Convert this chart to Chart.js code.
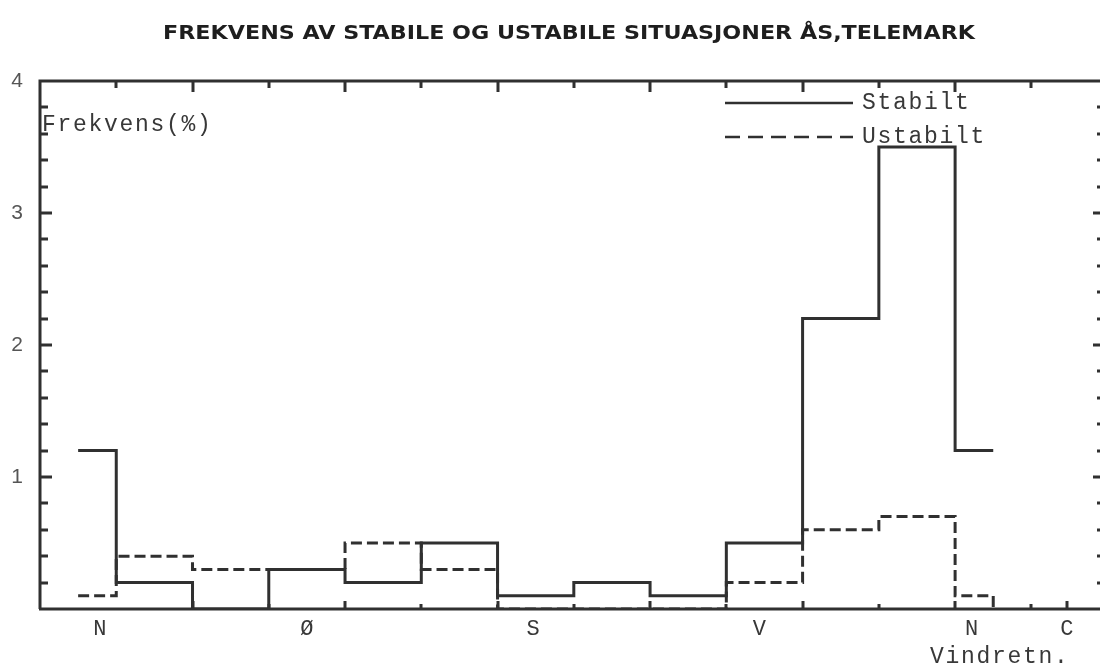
<!DOCTYPE html>
<html>
<head>
<meta charset="utf-8">
<title>Frekvens av stabile og ustabile situasjoner</title>
<script src="https://cdn.jsdelivr.net/npm/chart.js@4/dist/chart.umd.min.js"></script>
<style>
  html, body { margin: 0; padding: 0; background: #fff; }
  #wrap { width: 1100px; height: 667px; }
</style>
</head>
<body>
<div id="wrap"><canvas id="freq" width="1100" height="667"></canvas></div>
<script>

// Sector edges in degrees (30 deg sectors, N split at both ends)
const sectorEdges = [0, 15, 45, 75, 105, 135, 165, 195, 225, 255, 285, 315, 345, 360];

// Frequency (%) per sector
const stabilt  = [1.2, 0.2, 0.0, 0.3, 0.2, 0.5, 0.1, 0.2, 0.1, 0.5, 2.2, 3.5, 1.2];
const ustabilt = [0.1, 0.4, 0.3, 0.3, 0.5, 0.3, 0.0, 0.0, 0.0, 0.2, 0.6, 0.7, 0.1];

// Direction labels along the x axis
const dirLabels = ['N', 'Ø', 'S', 'V', 'N', 'C'];
const dirTicks  = [8.5, 90, 179, 268, 351.5, 389];

const yLabels = [1, 2, 3, 4];

const ink = '#303030';
const textInk = '#383838';
const typewriter = '"Liberation Mono", "DejaVu Sans Mono", monospace';

function stepPoints(edges, values, dropAtEnd) {
    let pts = [];
    values.forEach(function(v, i) {
        pts.push({ x: edges[i], y: v });
        pts.push({ x: edges[i + 1], y: v });
    });
    if (dropAtEnd) {
        pts.push({ x: edges[edges.length - 1], y: 0 });
    }
    return pts;
}

// frame, inward tick marks, title, legend and free text
const decorations = {
    id: 'decorations',
    beforeDatasetsDraw(chart) {
        const ctx = chart.ctx;
        const area = chart.chartArea;
        const xs = chart.scales.x;
        const ys = chart.scales.y;
        ctx.save();
        ctx.strokeStyle = ink;
        ctx.lineWidth = 3;
        ctx.lineCap = 'butt';

        // frame
        ctx.beginPath();
        ctx.moveTo(area.left, area.bottom);
        ctx.lineTo(area.left, area.top);
        ctx.lineTo(area.right + 2, area.top);
        ctx.moveTo(area.left - 1, area.bottom);
        ctx.lineTo(area.right + 2, area.bottom);
        ctx.stroke();

        // left / right ticks every 0.2
        for (let k = 1; k < 20; k++) {
            const v = k / 5;
            const y = Math.round(ys.getPixelForValue(v));
            const major = k % 5 === 0;
            ctx.beginPath();
            ctx.moveTo(area.left, y);
            ctx.lineTo(area.left + (major ? 12 : 8), y);
            ctx.moveTo(area.right, y);
            ctx.lineTo(area.right - (major ? 7 : 3), y);
            ctx.stroke();
        }

        // top and bottom ticks every 30 deg
        for (let d = 15; d <= 375; d += 30) {
            const x = Math.round(xs.getPixelForValue(d));
            const long = (d - 45) % 60 === 0;
            ctx.beginPath();
            ctx.moveTo(x, area.top);
            ctx.lineTo(x, area.top + (long ? 11 : 7));
            if (d > 15) {
                ctx.moveTo(x, area.bottom);
                ctx.lineTo(x, area.bottom - (long ? 8 : 5));
            }
            ctx.stroke();
        }
        const xc = Math.round(xs.getPixelForValue(dirTicks[dirTicks.length - 1]));
        ctx.beginPath();
        ctx.moveTo(xc, area.bottom);
        ctx.lineTo(xc, area.bottom - 8);
        ctx.stroke();
        ctx.restore();
    },
    afterDraw(chart) {
        const ctx = chart.ctx;
        const area = chart.chartArea;
        ctx.save();

        // title
        const title = 'FREKVENS AV STABILE OG USTABILE SITUASJONER ÅS,TELEMARK';
        ctx.font = 'bold 19px "DejaVu Sans", sans-serif';
        ctx.fillStyle = '#1e1e1e';
        ctx.textBaseline = 'middle';
        ctx.textAlign = 'left';
        const w = ctx.measureText(title).width;
        ctx.save();
        ctx.translate(163, 34);
        ctx.scale(812 / w, 1);
        ctx.fillText(title, 0, 0);
        ctx.restore();

        // typewriter text
        ctx.font = '23px ' + typewriter;
        ctx.letterSpacing = '1.7px';
        ctx.fillStyle = textInk;
        ctx.fillText('Frekvens(%)', area.left + 2, 125);
        ctx.fillText('Vindretn.', 930, 657);

        // legend
        const rows = [
            { ds: chart.data.datasets[0], y: 103, dash: [] },
            { ds: chart.data.datasets[1], y: 137, dash: [15, 8] }
        ];
        rows.forEach(function(row) {
            ctx.save();
            ctx.strokeStyle = row.ds.borderColor;
            ctx.lineWidth = 2.5;
            ctx.setLineDash(row.dash);
            ctx.beginPath();
            ctx.moveTo(725, row.y);
            ctx.lineTo(853, row.y);
            ctx.stroke();
            ctx.restore();
            ctx.fillText(row.ds.label, 862, row.y);
        });
        ctx.restore();
    }
};

const ctx = document.getElementById('freq').getContext('2d');
const chart = new Chart(ctx, {
    type: 'line',
    data: {
        datasets: [
            {
                label: 'Stabilt',
                data: stepPoints(sectorEdges, stabilt, false),
                borderColor: ink,
                borderWidth: 3,
                pointRadius: 0,
                fill: false,
                tension: 0
            },
            {
                label: 'Ustabilt',
                data: stepPoints(sectorEdges, ustabilt, true),
                borderColor: ink,
                borderWidth: 3,
                borderDash: [11, 5],
                pointRadius: 0,
                fill: false,
                tension: 0
            }
        ]
    },
    options: {
        responsive: false,
        animation: false,
        layout: { padding: { top: 81, right: 0, bottom: 0, left: 0 } },
        plugins: {
            legend: { display: false },
            tooltip: { enabled: false }
        },
        scales: {
            x: {
                type: 'linear',
                min: -15,
                max: 402,
                grid: { display: false, drawTicks: false },
                border: { display: false },
                afterBuildTicks: function(scale) {
                    scale.ticks = dirTicks.map(function(v) { return { value: v }; });
                },
                afterFit: function(scale) { scale.height = 58; },
                ticks: {
                    autoSkip: false,
                    maxRotation: 0,
                    padding: 7,
                    color: textInk,
                    font: { family: typewriter, size: 22 },
                    callback: function(value, index) { return dirLabels[index]; }
                }
            },
            y: {
                min: 0,
                max: 4,
                grid: { display: false, drawTicks: false },
                border: { display: false },
                afterBuildTicks: function(scale) {
                    scale.ticks = yLabels.map(function(v) { return { value: v }; });
                },
                afterFit: function(scale) { scale.width = 40; },
                ticks: {
                    padding: 17,
                    color: '#555',
                    font: { family: '"Liberation Sans", Arial, sans-serif', size: 21 }
                }
            }
        }
    },
    plugins: [decorations]
});
</script>
</body>
</html>
